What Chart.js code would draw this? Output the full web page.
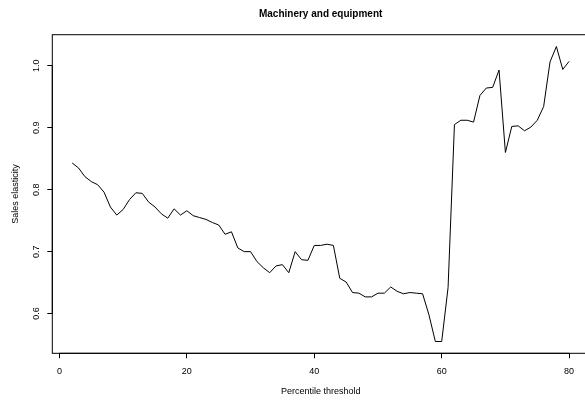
<!DOCTYPE html>
<html>
<head>
<meta charset="utf-8">
<script src="https://cdn.jsdelivr.net/npm/chart.js@4"></script>
<style>
  html, body { margin: 0; padding: 0; background: #fff; overflow: hidden; }
  #wrap { width: 585px; height: 401px; overflow: hidden; }
  canvas { display: block; }
</style>
</head>
<body>
<div id="wrap"><canvas id="c" width="600" height="401"></canvas></div>
<script>
// Percentile thresholds (x) and estimated sales elasticity at each threshold (y)
const thresholds = [2,3,4,5,6,7,8,9,10,11,12,13,14,15,16,17,18,19,20,21,22,23,24,25,26,27,28,29,30,31,32,33,34,35,36,37,38,39,40,41,42,43,44,45,46,47,48,49,50,51,52,53,54,55,56,57,58,59,60,61,62,63,64,65,66,67,68,69,70,71,72,73,74,75,76,77,78,79,80];
const elasticity = [
  0.843, 0.835, 0.821, 0.813, 0.808, 0.796, 0.772, 0.759, 0.768, 0.784,
  0.795, 0.794, 0.780, 0.772, 0.761, 0.754, 0.769, 0.759, 0.766, 0.758,
  0.755, 0.752, 0.747, 0.743, 0.728, 0.732, 0.706, 0.700, 0.700, 0.684,
  0.674, 0.666, 0.677, 0.679, 0.666, 0.700, 0.687, 0.686, 0.710, 0.710,
  0.712, 0.710, 0.657, 0.651, 0.634, 0.633, 0.627, 0.627, 0.633, 0.633,
  0.643, 0.636, 0.632, 0.634, 0.633, 0.632, 0.598, 0.555, 0.555, 0.642,
  0.905, 0.912, 0.912, 0.909, 0.952, 0.964, 0.965, 0.993, 0.860, 0.902,
  0.903, 0.895, 0.901, 0.912, 0.934, 1.006, 1.031, 0.994, 1.007
];
const xTicks = [0, 20, 40, 60, 80];
const yTicks = [0.6, 0.7, 0.8, 0.9, 1.0];

const chartTitle = 'Machinery and equipment';
const xTitle = 'Percentile threshold';
const yTitle = 'Sales elasticity';

const FONT = '"Liberation Sans", Arial, Helvetica, sans-serif';

// Pad the data range by 4% on each side, like a classic plot frame
function padRange(vals) {
  const lo = Math.min(...vals), hi = Math.max(...vals);
  const d = (hi - lo) * 0.04;
  return [lo - d, hi + d];
}
const [xMin, xMax] = padRange(thresholds);
const [yMin, yMax] = padRange(elasticity);

// Frame around the plotting region, plus axis lines from first to last tick
const frame = {
  id: 'frame',
  afterDraw(chart) {
    const a = chart.chartArea, ctx = chart.ctx;
    ctx.save();
    ctx.strokeStyle = '#000';
    ctx.lineWidth = 1;
    ctx.strokeRect(a.left, a.top, a.right - a.left, a.bottom - a.top);
    const xs = chart.scales.x, ys = chart.scales.y;
    ctx.beginPath();
    ctx.moveTo(xs.getPixelForValue(xTicks[0]), a.bottom);
    ctx.lineTo(xs.getPixelForValue(xTicks[xTicks.length - 1]), a.bottom);
    ctx.moveTo(a.left, ys.getPixelForValue(yTicks[0]));
    ctx.lineTo(a.left, ys.getPixelForValue(yTicks[yTicks.length - 1]));
    ctx.stroke();
    ctx.restore();
  }
};

new Chart(document.getElementById('c'), {
  type: 'line',
  data: {
    datasets: [{
      data: thresholds.map((t, i) => ({ x: t, y: elasticity[i] })),
      borderColor: '#000',
      borderWidth: 1,
      pointRadius: 0,
      tension: 0,
      fill: false
    }]
  },
  options: {
    responsive: false,
    animation: false,
    layout: { padding: { left: 0, right: 11, top: 0, bottom: 0 } },
    plugins: {
      legend: { display: false },
      tooltip: { enabled: false },
      title: {
        display: true,
        fullSize: false,
        text: chartTitle,
        color: '#000',
        font: { family: FONT, size: 10, weight: 'bold' },
        padding: { top: 8.5, bottom: 14.2 }
      }
    },
    scales: {
      x: {
        type: 'linear',
        min: xMin,
        max: xMax,
        afterBuildTicks(s) { s.ticks = xTicks.map(v => ({ value: v })); },
        afterFit(s) { s.height = 47.7; },
        border: { display: false },
        grid: { drawOnChartArea: false, drawTicks: true, tickLength: 5, color: '#000', lineWidth: 1 },
        ticks: {
          color: '#000',
          font: { family: FONT, size: 9 },
          padding: 7.5,
          maxRotation: 0,
          autoSkip: false,
          callback: v => String(v)
        },
        title: {
          display: true,
          text: xTitle,
          color: '#000',
          font: { family: FONT, size: 9 },
          padding: { top: 0, bottom: 3.8 }
        }
      },
      y: {
        type: 'linear',
        min: yMin,
        max: yMax,
        afterBuildTicks(s) { s.ticks = yTicks.map(v => ({ value: v })); },
        afterFit(s) { s.width = 52.3; },
        border: { display: false },
        grid: { drawOnChartArea: false, drawTicks: true, tickLength: 5, color: '#000', lineWidth: 1 },
        ticks: {
          color: '#000',
          font: { family: FONT, size: 9 },
          padding: 4.6,
          minRotation: 90,
          maxRotation: 90,
          crossAlign: 'center',
          autoSkip: false,
          callback: v => v.toFixed(1)
        },
        title: {
          display: true,
          text: yTitle,
          color: '#000',
          font: { family: FONT, size: 9 },
          padding: { top: 10.2, bottom: 0 }
        }
      }
    }
  },
  plugins: [frame]
});
</script>
</body>
</html>
